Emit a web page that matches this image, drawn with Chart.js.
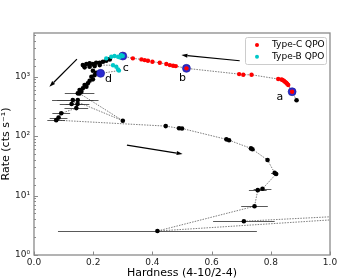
<!DOCTYPE html>
<html><head><meta charset="utf-8">
<script src="https://cdn.jsdelivr.net/npm/chart.js@4/dist/chart.umd.min.js"></script>
<style>html,body{margin:0;padding:0;background:#fff}</style>
</head><body>
<canvas id="c" width="360" height="280"></canvas>
<script>
// ---- data (time order along the outburst track) ----
const trackH = [0.887,0.872,0.859,0.852,0.845,0.855,0.840,0.848,0.836,0.825,
  0.735,0.707,0.693,0.515,0.479,0.470,0.459,0.447,0.425,0.400,
  0.385,0.374,0.363,0.334,0.300,0.295,0.289,0.284,0.272,0.261,
  0.244,0.256,0.244,0.233,0.222,0.210,0.199,0.188,0.177,0.165,
  0.171,0.188,0.205,0.222,0.267,0.278,0.284,0.287,0.225,0.199,
  0.210,0.205,0.194,0.199,0.188,0.182,0.171,0.177,0.165,0.154,
  0.160,0.148,0.154,0.300,0.131,0.148,0.127,0.147,0.143,0.092,
  0.083,0.075,0.445,0.490,0.500,0.650,0.659,0.733,0.738,0.789,
  0.813,0.818,0.772,0.756,0.745,0.417,1.800,0.709];
const trackR = [400,556,720,790,840,760,875,815,890,908,
  1072,1072,1100,1374,1500,1520,1560,1622,1706,1774,
  1845,1892,1945,2023,2213,2296,2104,2153,2213,2153,
  2023,1945,1842,1774,1706,1706,1620,1667,1622,1560,
  1428,1462,1500,1560,1549,1462,1318,1259,1132,1251,
  1159,1059,993,897,850,769,719,674,634,593,
  556,522,520,181,403,403,345,345,295,241,
  204,185,147,135,134,88,85,62,60,39.5,
  24,23,13,12.3,6.6,2.53,7,3.7];
const trackErr = [0,0,0,0,0,0,0,0,0,0,
  0,0,0,0,0,0,0,0,0,0,
  0,0,0,0,0,0,0,0,0,0,
  0,0,0,0,0,0,0,0,0,0,
  0,0,0,0,0,0,0,0,0,0,
  0,0,0,0,0,0,0,0,0,0,
  0,0,0.05,0,0.07,0.07,0.04,0.04,0.04,0.03,
  0.03,0.03,0,0,0,0.005,0,0.008,0,0.005,
  0.012,0,0.03,0.03,0.045,0.336,0,0.104];
// k = no QPO, C = Type-C QPO, B = Type-B QPO, x = turning point outside the axes
const trackType = ['k','C','C','C','C','C','C','C','C','C',
  'C','C','C','C','C','C','C','C','C','C',
  'C','C','C','C','B','B','B','B','B','B',
  'B','k','k','k','k','k','k','k','k','k',
  'k','k','k','k','B','B','B','B','k','k',
  'k','k','k','k','k','k','k','k','k','k',
  'k','k','k','k','k','k','k','k','k','k',
  'k','k','k','k','k','k','k','k','k','k',
  'k','k','k','k','k','k','x','k'];
// highlighted observations a,b,c,d (indices into the track)
const markNames = ['a','b','c','d'];
const markIdx = [1,13,24,48];
const markLabelH = [0.831,0.502,0.310,0.252];
const markLabelR = [447,933,1374,908];
// direction arrows [fromH, fromR] -> [toH, toR]
const arrowFromH = [0.695,0.145,0.314];
const arrowFromR = [1845,1968,70.6];
const arrowToH = [0.498,0.052,0.502];
const arrowToR = [2296,674,49.8];
// ticks / labels
const xTickLabels = ['0.0','0.2','0.4','0.6','0.8','1.0'];
const yTickLabels = ['10\u2070','10\u00b9','10\u00b2','10\u00b3'];
const legendNames = ['Type-C QPO','Type-B QPO'];

const FONT = "'DejaVu Sans', sans-serif";
const pts = t => trackH.map((h,i)=>({x:h,y:trackR[i],t:trackType[i]})).filter(p=>p.t===t);

const overlay = {
  id:'overlay',
  beforeDatasetsDraw(chart){
    const {ctx, chartArea:ca, scales:{x,y}} = chart;
    ctx.save();
    ctx.beginPath(); ctx.rect(ca.left,ca.top,ca.right-ca.left,ca.bottom-ca.top); ctx.clip();
    ctx.strokeStyle='rgba(60,60,60,0.85)'; ctx.lineWidth=1;
    trackH.forEach((h,i)=>{
      const e=trackErr[i]; if(!e) return;
      const py=Math.round(y.getPixelForValue(trackR[i]))+0.5;
      ctx.beginPath(); ctx.moveTo(x.getPixelForValue(h-e),py); ctx.lineTo(x.getPixelForValue(h+e),py); ctx.stroke();
    });
    ctx.restore();
  },
  afterDraw(chart){
    const {ctx, chartArea:ca, scales:{x,y}} = chart;
    ctx.save();
    // arrows
    ctx.strokeStyle='#000'; ctx.fillStyle='#000'; ctx.lineWidth=1.2;
    arrowFromH.forEach((h,i)=>{
      const x0=x.getPixelForValue(h), y0=y.getPixelForValue(arrowFromR[i]);
      const x1=x.getPixelForValue(arrowToH[i]), y1=y.getPixelForValue(arrowToR[i]);
      const a=Math.atan2(y1-y0,x1-x0), L=6, W=2;
      const bx=x1-L*Math.cos(a), by=y1-L*Math.sin(a);
      ctx.beginPath(); ctx.moveTo(x0,y0); ctx.lineTo(bx,by); ctx.stroke();
      ctx.beginPath(); ctx.moveTo(x1,y1);
      ctx.lineTo(bx+W*Math.sin(a),by-W*Math.cos(a));
      ctx.lineTo(bx-W*Math.sin(a),by+W*Math.cos(a)); ctx.closePath(); ctx.fill();
    });
    // labels a-d
    ctx.font='11px '+FONT; ctx.textAlign='center'; ctx.textBaseline='middle'; ctx.fillStyle='#000';
    markNames.forEach((n,i)=>ctx.fillText(n,x.getPixelForValue(markLabelH[i]),y.getPixelForValue(markLabelR[i])));
    // frame
    ctx.strokeStyle='#8a8a8a'; ctx.lineWidth=1.3;
    ctx.strokeRect(ca.left,ca.top,ca.right-ca.left,ca.bottom-ca.top);
    // inward ticks
    ctx.lineWidth=1; ctx.strokeStyle='#8a8a8a';
    x.ticks.forEach(t=>{const px=Math.round(x.getPixelForValue(t.value))+0.5;
      ctx.beginPath(); ctx.moveTo(px,ca.bottom); ctx.lineTo(px,ca.bottom-3.5); ctx.stroke();});
    y.ticks.forEach(t=>{const l=Math.log10(t.value); const major=Math.abs(l-Math.round(l))<1e-9;
      const py=Math.round(y.getPixelForValue(t.value))+0.5;
      if(py<ca.top+1) return;
      ctx.beginPath(); ctx.moveTo(ca.left,py); ctx.lineTo(ca.left+(major?4:2),py); ctx.stroke();});
    // legend
    const lw=81, lh=27, lx=ca.right-lw-4, ly=ca.top+4;
    ctx.fillStyle='rgba(255,255,255,0.85)'; ctx.strokeStyle='#cccccc'; ctx.lineWidth=1;
    ctx.beginPath(); ctx.roundRect(lx+0.5,ly+0.5,lw,lh,2); ctx.fill(); ctx.stroke();
    const cols=['#ff0000','#00c8c8'];
    ctx.font='9px '+FONT; ctx.textAlign='left'; ctx.textBaseline='middle';
    legendNames.forEach((n,i)=>{
      const cy=ly+8+i*11.7;
      ctx.fillStyle=cols[i]; ctx.beginPath(); ctx.arc(lx+12,cy,2,0,Math.PI*2); ctx.fill();
      ctx.fillStyle='#000'; ctx.fillText(n,lx+27,cy);
    });
    ctx.restore();
  }
};

new Chart(document.getElementById('c'), {
  type:'scatter',
  data:{datasets:[
    {label:'track', data:trackH.map((h,i)=>({x:h,y:trackR[i]})), showLine:true,
     borderColor:'rgba(50,50,50,0.8)', borderWidth:0.8, borderDash:[1.5,1.2], pointRadius:0, order:5},
    {label:'no QPO', data:pts('k'), pointRadius:2.3, pointBackgroundColor:'#000', pointBorderWidth:0, order:4},
    {label:'marked', data:markIdx.map(i=>({x:trackH[i],y:trackR[i]})), pointRadius:4,
     pointBackgroundColor:'#2a2ad0', pointBorderColor:'#1a1a90', pointBorderWidth:0.6, order:3},
    {label:legendNames[0], data:pts('C'), pointRadius:2.2, pointBackgroundColor:'#ff0000', pointBorderWidth:0, order:2},
    {label:legendNames[1], data:pts('B'), pointRadius:2.2, pointBackgroundColor:'#00c8c8', pointBorderWidth:0, order:1}
  ]},
  options:{
    responsive:false, animation:false, devicePixelRatio:1,
    layout:{padding:{left:0,right:30,top:33,bottom:0}},
    plugins:{legend:{display:false}, tooltip:{enabled:false}},
    scales:{
      x:{type:'linear', min:0, max:1,
        afterFit(s){s.height=25;},
        grid:{display:false, drawTicks:false}, border:{display:false},
        ticks:{stepSize:0.2, autoSkip:false, padding:2, color:'#222', font:{family:FONT,size:9},
          callback:(v)=>{const k=Math.round(v/0.2); return Math.abs(v-k*0.2)<1e-6?xTickLabels[k]:'';}},
        title:{display:true, text:'Hardness (4-10/2-4)', color:'#000', font:{family:FONT,size:11}, padding:{top:0,bottom:0}}},
      y:{type:'logarithmic', min:1, max:5400,
        afterFit(s){s.width=34;},
        grid:{display:false, drawTicks:false}, border:{display:false},
        ticks:{autoSkip:false, padding:4, color:'#222', font:{family:FONT,size:9},
          callback:(v)=>{const l=Math.log10(v); return Math.abs(l-Math.round(l))<1e-9?yTickLabels[Math.round(l)]:'';}},
        title:{display:true, text:'Rate (cts s\u207b\u00b9)', color:'#000', font:{family:FONT,size:11}, padding:{top:0,bottom:0}}}
    }
  },
  plugins:[overlay]
});
</script>
</body></html>
